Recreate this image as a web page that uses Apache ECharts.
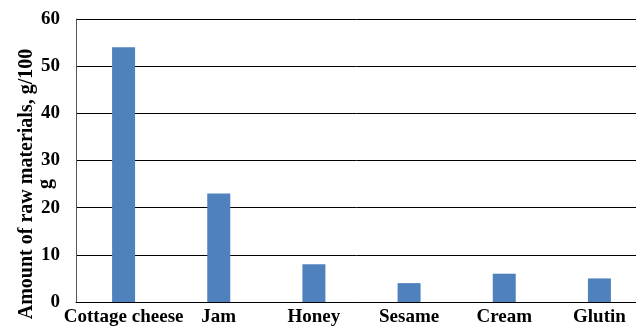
<!DOCTYPE html>
<html>
<head>
<meta charset="utf-8">
<script src="https://cdn.jsdelivr.net/npm/echarts@6/dist/echarts.min.js"></script>
<style>
  html, body { margin: 0; padding: 0; background: #fff; }
  #chart { width: 636px; height: 333px; }
</style>
</head>
<body>
<div id="chart"></div>
<script>
const categories = ["Cottage cheese", "Jam", "Honey", "Sesame", "Cream", "Glutin"];
const amounts = [54, 23, 8, 4, 6, 5];
const yTitle = "Amount of raw materials, g/100\ng";

const font = "'Liberation Serif', 'Times New Roman', serif";

const chart = echarts.init(document.getElementById("chart"));

const option = {
  animation: false,
  grid: {
    left: 76,
    top: 19,
    right: -11,
    bottom: 31,
    containLabel: false,
    outerBoundsMode: "none",
  },
  // y-axis title, rotated, sits a bit below the plot's middle like the original
  graphic: [
    {
      type: "text",
      x: 36,
      y: 184,
      rotation: Math.PI / 2,
      style: {
        text: yTitle,
        fill: "#000",
        font: "bold 20px " + font,
        align: "center",
        verticalAlign: "middle",
        lineHeight: 19,
      },
    },
  ],
  xAxis: {
    type: "category",
    data: categories,
    axisLine: { lineStyle: { color: "#000", width: 1 } },
    axisTick: { show: false },
    axisLabel: {
      margin: 6,
      color: "#000",
      fontFamily: font,
      fontWeight: "bold",
      fontSize: 19,
      interval: 0,
    },
  },
  yAxis: {
    type: "value",
    min: 0,
    max: 60,
    interval: 10,
    axisLine: { show: true, lineStyle: { color: "#555", width: 1 } },
    axisTick: { show: false },
    splitLine: { lineStyle: { color: "#000", width: 1 } },
    axisLabel: {
      margin: 16,
      color: "#000",
      fontFamily: font,
      fontWeight: "bold",
      fontSize: 19,
    },
  },
  series: [
    {
      type: "bar",
      data: amounts,
      barWidth: 23,
      itemStyle: { color: "#4F81BD" },
    },
  ],
};

chart.setOption(option);
</script>
</body>
</html>
